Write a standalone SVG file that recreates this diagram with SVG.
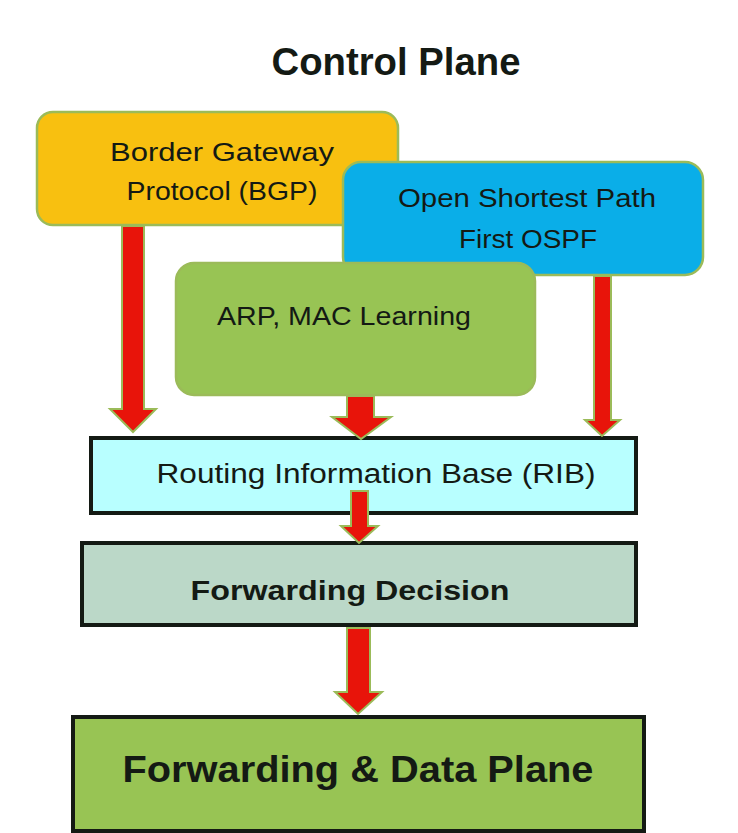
<svg xmlns="http://www.w3.org/2000/svg" width="738" height="833" viewBox="0 0 738 833">
<style>
.t{font-family:"Liberation Sans","DejaVu Sans",sans-serif;fill:#141a14;text-anchor:middle}
.n{font-size:26px}
.b{font-weight:bold}
.rb{stroke:#9BBB59;stroke-width:2.5}
.sq{stroke:#141a14;stroke-width:4}
.ar{fill:#E8140A;stroke:#9BBB59;stroke-width:2;stroke-linejoin:miter}
</style>
<rect width="738" height="833" fill="#ffffff"/>
<text class="t b" x="396" y="75" font-size="38" textLength="249" lengthAdjust="spacingAndGlyphs">Control Plane</text>
<g id="bgp">
<rect class="rb" x="37" y="112" width="361" height="113" rx="16" fill="#F8C010"/>
<text class="t n" x="222" y="161" textLength="224" lengthAdjust="spacingAndGlyphs">Border Gateway</text>
<text class="t n" x="222" y="200" textLength="191" lengthAdjust="spacingAndGlyphs">Protocol (BGP)</text>
</g>
<g id="ospf">
<rect class="rb" x="343" y="162" width="360" height="113" rx="18" fill="#0AAEE8"/>
<text class="t n" x="527" y="207" textLength="258" lengthAdjust="spacingAndGlyphs">Open Shortest Path</text>
<text class="t n" x="528" y="248" textLength="138" lengthAdjust="spacingAndGlyphs">First OSPF</text>
</g>
<g id="arp">
<rect class="rb" x="176" y="263" width="359" height="132" rx="18" fill="#98C454"/>
<text class="t n" x="344" y="325" textLength="254" lengthAdjust="spacingAndGlyphs">ARP, MAC Learning</text>
</g>
<g id="rib">
<rect class="sq" x="91" y="438" width="545" height="75" fill="#B8FFFF"/>
<text class="t" x="376" y="483" font-size="27" textLength="439" lengthAdjust="spacingAndGlyphs">Routing Information Base (RIB)</text>
</g>
<g id="decision">
<rect class="sq" x="82" y="543" width="554" height="82" fill="#BBD8C8"/>
<text class="t b" x="350" y="600" font-size="27" textLength="319" lengthAdjust="spacingAndGlyphs">Forwarding Decision</text>
</g>
<g id="dataplane">
<rect class="sq" x="73" y="717" width="571" height="114" fill="#98C454"/>
<text class="t b" x="358" y="782" font-size="37" textLength="471" lengthAdjust="spacingAndGlyphs">Forwarding &amp; Data Plane</text>
</g>
<g id="connectors">
<polygon class="ar" points="122,226 144,226 144,409 156,409 133,432 110,409 122,409"/>
<polygon class="ar" points="347,396 374,396 374,417 391,417 361,439 332,417 347,417"/>
<polygon class="ar" points="594,276 611,276 611,420 620,420 602,436 585,420 594,420"/>
<polygon class="ar" points="351,491 368,491 368,526 378,526 359,543 341,526 351,526"/>
<polygon class="ar" points="347,628 370,628 370,692 382,692 358,714 335,692 347,692"/>
</g>
</svg>
